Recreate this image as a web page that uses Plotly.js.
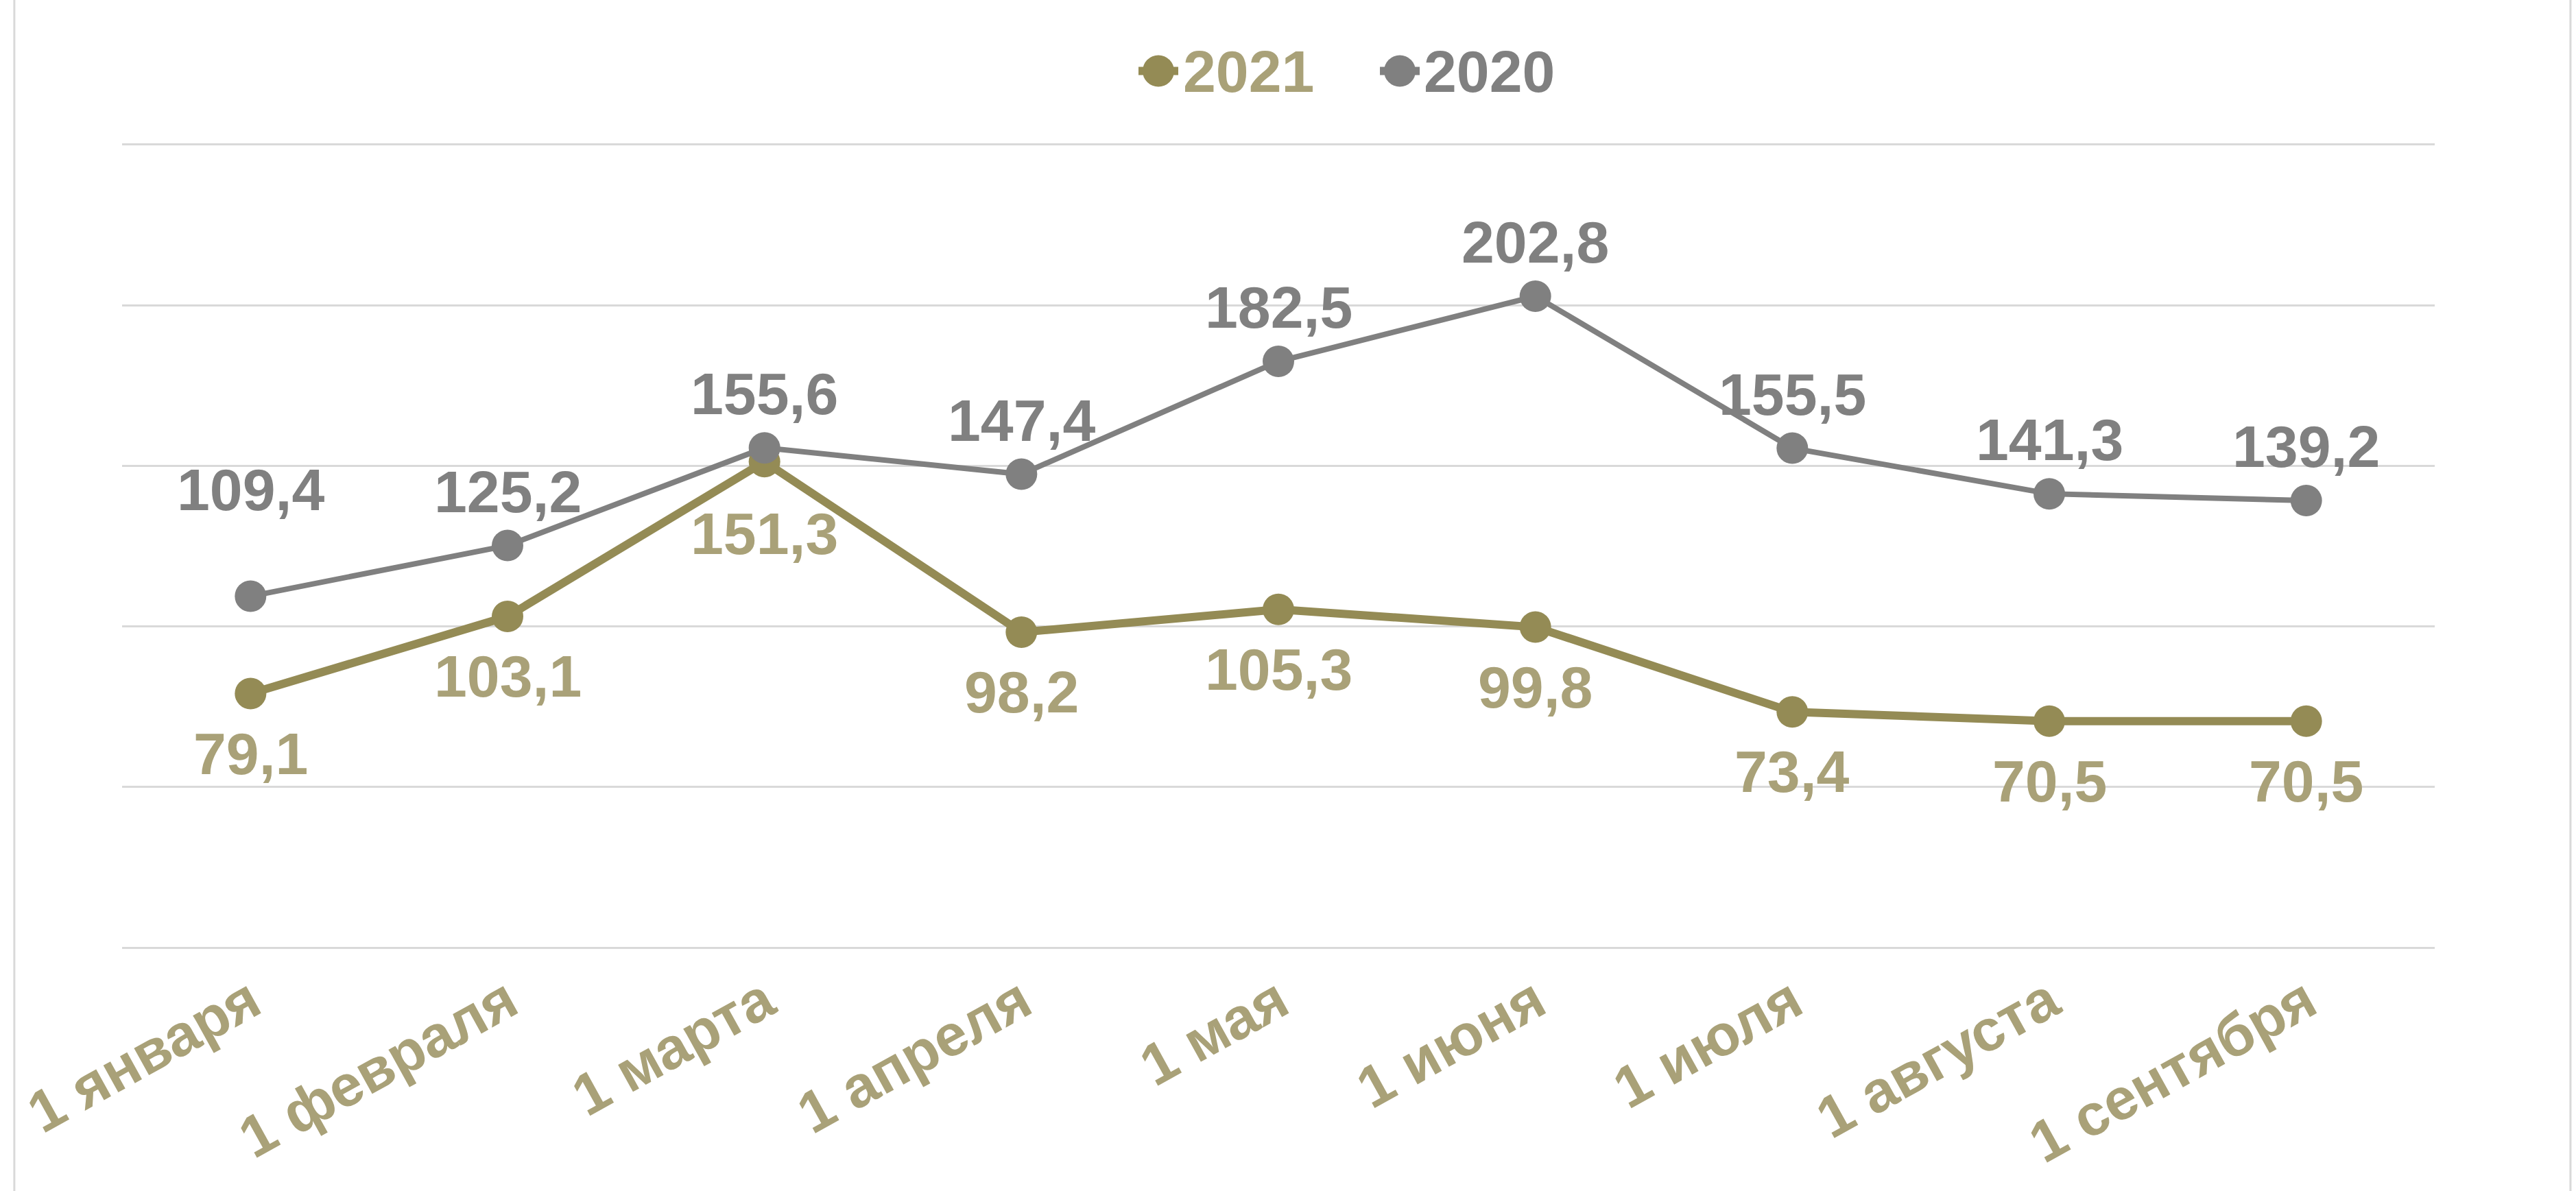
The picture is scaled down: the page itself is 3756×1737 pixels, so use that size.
<!DOCTYPE html>
<html>
<head>
<meta charset="utf-8">
<script src="https://cdn.plot.ly/plotly-3.0.1.min.js"></script>
<style>html,body{margin:0;padding:0;background:#fff;}#chart{width:3756px;height:1737px;}</style>
</head>
<body>
<div id="chart"></div>
<script>
// ---- data ----
const categories = ['1 января','1 февраля','1 марта','1 апреля','1 мая','1 июня','1 июля','1 августа','1 сентября'];
const series2021 = [79.1, 103.1, 151.3, 98.2, 105.3, 99.8, 73.4, 70.5, 70.5];
const series2020 = [109.4, 125.2, 155.6, 147.4, 182.5, 202.8, 155.5, 141.3, 139.2];
const seriesNames = ['2021', '2020'];
const yTicks = [0, 50, 100, 150, 200, 250];

// ---- styles ----
const FONT = 'Liberation Sans, Arial, Helvetica, sans-serif';
const C2021 = '#948B55', C2021_TXT = '#A9A178';
const C2020 = '#808080', C2020_TXT = '#808080';
const fmt = v => v.toFixed(1).replace('.', ',');

const traces = [
  { type: 'scatter', mode: 'lines+markers', name: seriesNames[0], x: categories, y: series2021,
    line: { color: C2021, width: 12 }, marker: { color: C2021, size: 46 }, hoverinfo: 'skip' },
  { type: 'scatter', mode: 'lines+markers', name: seriesNames[1], x: categories, y: series2020,
    line: { color: C2020, width: 8 }, marker: { color: C2020, size: 46 }, hoverinfo: 'skip' }
];

const annotations = [];
series2021.forEach((v, i) => annotations.push({
  xref: 'x', yref: 'y', x: categories[i], y: v, text: fmt(v), showarrow: false,
  yanchor: 'middle', yshift: i === 2 ? -105 : -87,
  font: { family: FONT, size: 86, color: C2021_TXT, weight: 'bold' }
}));
series2020.forEach((v, i) => annotations.push({
  xref: 'x', yref: 'y', x: categories[i], y: v, text: fmt(v), showarrow: false,
  yanchor: 'middle', yshift: i === 0 ? 156 : 79,
  font: { family: FONT, size: 86, color: C2020_TXT, weight: 'bold' }
}));

// custom legend (large markers)
const legY = 1.0897;
const legItems = [
  { name: seriesNames[0], mx: 0.4481, tx: 0.4582, c: C2021, tc: C2021_TXT },
  { name: seriesNames[1], mx: 0.5525, tx: 0.5623, c: C2020, tc: C2020 }
];
const shapes = [];
legItems.forEach(it => {
  shapes.push({ type: 'line', xref: 'paper', yref: 'paper', xsizemode: 'pixel', ysizemode: 'pixel',
    xanchor: it.mx, yanchor: legY, x0: -29, x1: 29, y0: 0, y1: 0, line: { color: it.c, width: 12 } });
  shapes.push({ type: 'circle', xref: 'paper', yref: 'paper', xsizemode: 'pixel', ysizemode: 'pixel',
    xanchor: it.mx, yanchor: legY, x0: -23, x1: 23, y0: -23, y1: 23, fillcolor: it.c, line: { width: 0 } });
  annotations.push({ xref: 'paper', yref: 'paper', x: it.tx, y: legY, xanchor: 'left', yanchor: 'middle',
    text: it.name, showarrow: false, font: { family: FONT, size: 86, color: it.tc, weight: 'bold' } });
});
// outer thin frame lines (left / right)
shapes.push({ type: 'line', xref: 'paper', yref: 'paper', x0: -0.0466, x1: -0.0466, y0: -0.32, y1: 1.2,
  line: { color: '#D9D9D9', width: 3 } });
shapes.push({ type: 'line', xref: 'paper', yref: 'paper', x0: 1.0587, x1: 1.0587, y0: -0.32, y1: 1.2,
  line: { color: '#D9D9D9', width: 3 } });

const layout = {
  width: 3756, height: 1737,
  margin: { l: 178, r: 206, t: 209, b: 353, pad: 0 },
  paper_bgcolor: '#FFFFFF', plot_bgcolor: '#FFFFFF',
  showlegend: false,
  font: { family: FONT },
  xaxis: {
    type: 'category', range: [-0.5, categories.length - 0.5],
    showgrid: false, zeroline: false, showline: false, ticks: '',
    tickangle: -29, ticklabelstandoff: 10,
    tickfont: { family: FONT, size: 85, color: C2021_TXT, weight: 'bold' }
  },
  yaxis: {
    range: [-0.4, 250.4], tickvals: yTicks, showticklabels: false,
    showgrid: true, gridcolor: '#D9D9D9', gridwidth: 3,
    zeroline: false, showline: false, ticks: ''
  },
  annotations: annotations,
  shapes: shapes
};

Plotly.newPlot('chart', traces, layout, { staticPlot: true, displayModeBar: false });
</script>
</body>
</html>
